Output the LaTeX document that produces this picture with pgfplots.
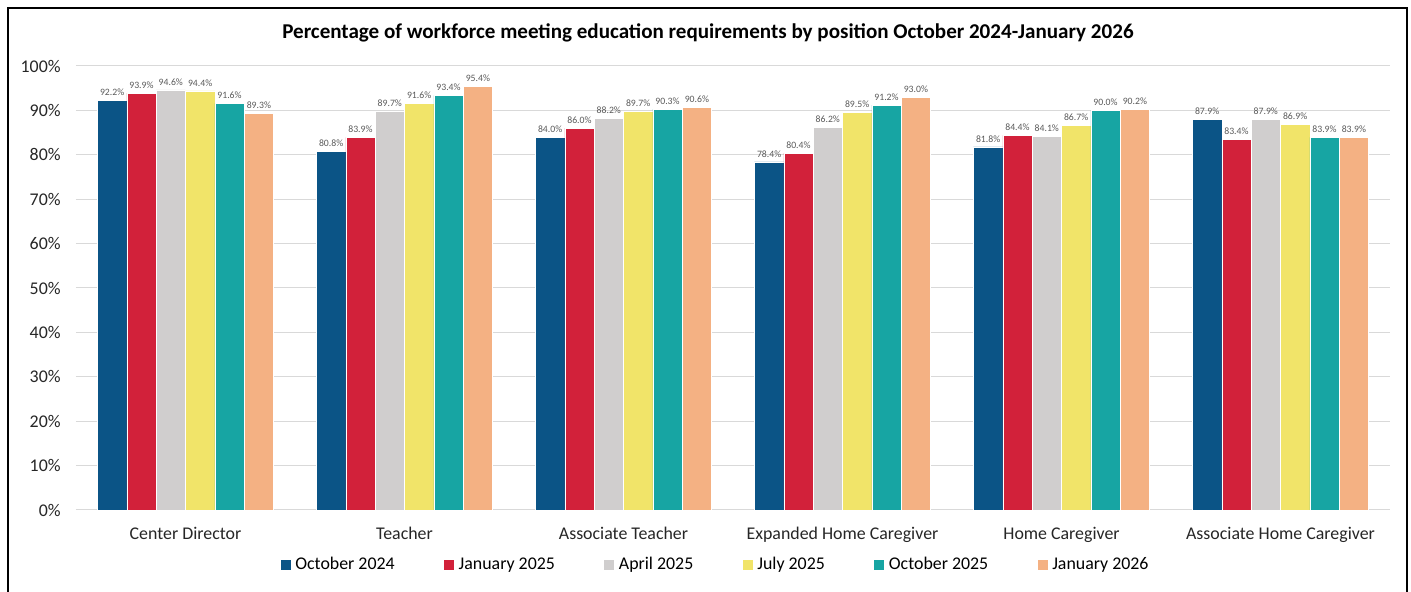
\documentclass[border=0pt]{standalone}
\usepackage{pgfplots}
\pgfplotsset{compat=1.18}
\usepackage{fontspec}
\setmainfont{Carlito}
\definecolor{cA}{HTML}{0B5486}
\definecolor{cB}{HTML}{D2213A}
\definecolor{cC}{HTML}{D0CECE}
\definecolor{cD}{HTML}{F1E469}
\definecolor{cE}{HTML}{17A5A3}
\definecolor{cF}{HTML}{F4B183}
\definecolor{gridgray}{HTML}{D9D9D9}
\definecolor{lblgray}{HTML}{595959}
\begin{document}
\begin{tikzpicture}[x=1pt,y=1pt]
\useasboundingbox (-57,-61.5) rectangle (1001.25,382.5);
\draw[line width=1.5pt] (-51,-62) -- (-51,376.5) -- (998.25,376.5) -- (998.25,-62);
\node[font=\bfseries\fontsize{15.8}{18}\selectfont] at (474,357.5) {Percentage of workforce meeting education requirements by position October 2024-January 2026};
\begin{axis}[
  at={(0,0)}, anchor=south west, scale only axis,
  width=985.5pt, height=333pt,
  ybar=0pt, bar width=0.134,
  xmin=-0.5, xmax=5.5, ymin=0, ymax=100,
  xtick={0,1,2,3,4,5},
  xticklabels={Center Director,Teacher,Associate Teacher,Expanded Home Caregiver,Home Caregiver,Associate Home Caregiver},
  ytick={0,10,...,100},
  yticklabel={\pgfmathprintnumber[assume math mode=true]{\tick}\%},
  tick style={draw=none}, major tick length=0pt,
  ymajorgrids, grid style={draw=gridgray, line width=0.75pt},
  axis x line*=bottom, axis y line*=left,
  x axis line style={draw=gridgray, line width=0.75pt},
  y axis line style={draw=none},
  ticklabel style={font=\fontsize{13.4}{15}\selectfont, color=black!85},
  xticklabel style={yshift=-9pt},
  yticklabel style={xshift=-8pt},
  every axis plot/.append style={draw=white, line width=0.4pt},
  nodes near coords={\pgfmathprintnumber[fixed,fixed zerofill,precision=1,assume math mode=true]{\pgfplotspointmeta}\%},
  every node near coord/.append style={font=\fontsize{7.3}{8}\selectfont, color=lblgray},
  legend style={at={(0.487,-0.124)}, anchor=center, legend columns=6, draw=none,
    font=\fontsize{13.4}{15}\selectfont,
    nodes={text height=9pt, text depth=3pt},
    /tikz/every odd column/.append style={column sep=1.5pt},
    /tikz/every even column/.append style={column sep=35pt}},
  legend image code/.code={\fill[#1, draw=none] (0pt,-3.75pt) rectangle (7.5pt,3.75pt);},
]
\addplot[fill=cA] coordinates {(0,92.2) (1,80.8) (2,84.0) (3,78.4) (4,81.8) (5,87.9)};
\addplot[fill=cB] coordinates {(0,93.9) (1,83.9) (2,86.0) (3,80.4) (4,84.4) (5,83.4)};
\addplot[fill=cC] coordinates {(0,94.6) (1,89.7) (2,88.2) (3,86.2) (4,84.1) (5,87.9)};
\addplot[fill=cD] coordinates {(0,94.4) (1,91.6) (2,89.7) (3,89.5) (4,86.7) (5,86.9)};
\addplot[fill=cE] coordinates {(0,91.6) (1,93.4) (2,90.3) (3,91.2) (4,90.0) (5,83.9)};
\addplot[fill=cF] coordinates {(0,89.3) (1,95.4) (2,90.6) (3,93.0) (4,90.2) (5,83.9)};
\legend{October 2024,January 2025,April 2025,July 2025,October 2025,January 2026}
\end{axis}
\end{tikzpicture}
\end{document}
